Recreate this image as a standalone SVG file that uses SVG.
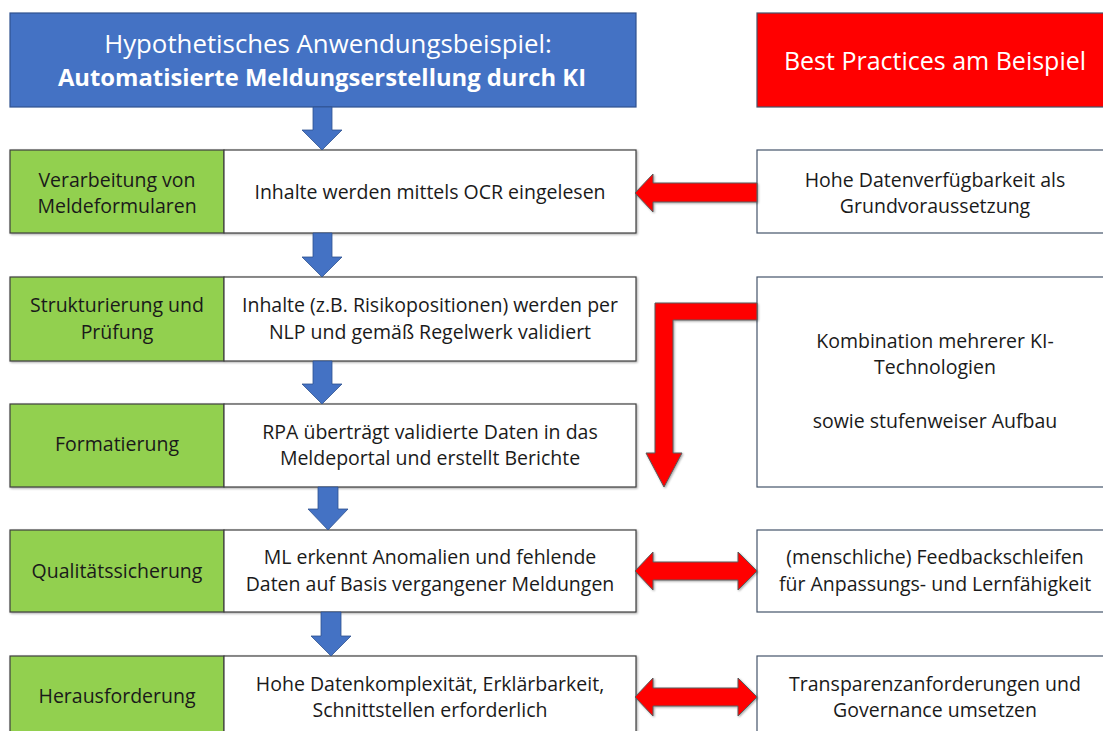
<svg xmlns="http://www.w3.org/2000/svg" width="1103" height="731" viewBox="0 0 1103 731">
<defs>
<filter id="sh" x="-10%" y="-10%" width="130%" height="130%"><feDropShadow dx="1" dy="1" stdDeviation="0.8" flood-color="#000" flood-opacity="0.35"/></filter>
<style>
text{font-family:"Open Sans","Liberation Sans",Arial,sans-serif;font-size:19.5px;fill:#1a1a1a;text-anchor:middle}
.hd{fill:#fff;font-size:25px}
.h1{font-size:25.8px}
.b{font-weight:bold;font-size:23.8px}
.grn{fill:#92D050;stroke:#3f3f3f;stroke-width:1.2}
.wht{fill:#fff;stroke:#3f3f3f;stroke-width:1.2}
.rb{fill:#fff;stroke:#44546A;stroke-width:1.2}
.ba{fill:#4472C4;stroke:#2F528F;stroke-width:0.8}
.ra{fill:#FF0000;stroke:#5a5a5a;stroke-width:1}
</style>
</defs>
<rect width="1103" height="731" fill="#fff"/>
<g id="header-left"><rect x="10" y="13" width="626" height="94" fill="#4472C4" stroke="#2F528F" stroke-width="1.2"/>
<text class="hd h1" x="328" y="53">Hypothetisches Anwendungsbeispiel:</text>
<text class="hd b" x="322" y="86">Automatisierte Meldungserstellung durch KI</text></g>
<g id="header-right"><rect x="757" y="13" width="356" height="94" fill="#FF0000" stroke="#44546A" stroke-width="1.2"/>
<text class="hd" x="935" y="70">Best Practices am Beispiel</text></g>

<g id="row1" filter="url(#sh)"><rect class="grn" x="10" y="150" width="214" height="83"/><rect class="wht" x="224" y="150" width="412" height="83"/></g>
<g id="row1-text"><text x="117" y="187">Verarbeitung von</text><text x="117" y="213">Meldeformularen</text><text x="430" y="199">Inhalte werden mittels OCR eingelesen</text></g>
<g id="row2" filter="url(#sh)"><rect class="grn" x="10" y="277" width="214" height="84"/><rect class="wht" x="224" y="277" width="412" height="84"/></g>
<g id="row2-text"><text x="117" y="312">Strukturierung und</text><text x="117" y="339">Prüfung</text><text x="430" y="312">Inhalte (z.B. Risikopositionen) werden per</text><text x="430" y="339">NLP und gemäß Regelwerk validiert</text></g>
<g id="row3" filter="url(#sh)"><rect class="grn" x="10" y="404" width="214" height="83"/><rect class="wht" x="224" y="404" width="412" height="83"/></g>
<g id="row3-text"><text x="117" y="451">Formatierung</text><text x="430" y="439">RPA überträgt validierte Daten in das</text><text x="430" y="465">Meldeportal und erstellt Berichte</text></g>
<g id="row4" filter="url(#sh)"><rect class="grn" x="10" y="530" width="214" height="82"/><rect class="wht" x="224" y="530" width="412" height="82"/></g>
<g id="row4-text"><text x="117" y="578">Qualitätssicherung</text><text x="430" y="564">ML erkennt Anomalien und fehlende</text><text x="430" y="591">Daten auf Basis vergangener Meldungen</text></g>
<g id="row5" filter="url(#sh)"><rect class="grn" x="10" y="656" width="214" height="84"/><rect class="wht" x="224" y="656" width="412" height="84"/></g>
<g id="row5-text"><text x="117" y="703">Herausforderung</text><text x="430" y="691">Hohe Datenkomplexität, Erklärbarkeit,</text><text x="430" y="717">Schnittstellen erforderlich</text></g>

<g id="bp1"><rect class="rb" x="757" y="150" width="356" height="83"/><text x="935" y="187">Hohe Datenverfügbarkeit als</text><text x="935" y="213">Grundvoraussetzung</text></g>
<g id="bp2"><rect class="rb" x="757" y="277" width="356" height="210"/><text x="935" y="348">Kombination mehrerer KI-</text><text x="935" y="374">Technologien</text><text x="935" y="428">sowie stufenweiser Aufbau</text></g>
<g id="bp3"><rect class="rb" x="757" y="530" width="356" height="82"/><text x="935" y="564">(menschliche) Feedbackschleifen</text><text x="935" y="591">für Anpassungs- und Lernfähigkeit</text></g>
<g id="bp4"><rect class="rb" x="757" y="656" width="356" height="84"/><text x="935" y="691">Transparenzanforderungen und</text><text x="935" y="717">Governance umsetzen</text></g>

<g id="connectors">
<path class="ba" d="M313 107 H332 V130 H342 L322 150 L302 130 H313 Z"/>
<path class="ba" d="M313 233 H332 V257 H342 L322 277 L302 257 H313 Z"/>
<path class="ba" d="M313 361 H332 V384 H342 L322 404 L302 384 H313 Z"/>
<path class="ba" d="M318 487 H338 V509 H348 L328 530 L308 509 H318 Z"/>
<path class="ba" d="M321 612 H341 V636 H351 L331 656 L311 636 H321 Z"/>
<g filter="url(#sh)">
<path class="ra" d="M757 183 V202 H653 V212 L635 193 L653 174 V183 Z"/>
<path class="ra" d="M757 303 V320 H673 V453 H682 L664 487 L646 453 H655 V303 Z"/>
<path class="ra" d="M635 571 L653 552 V562 H738 V552 L757 571 L738 590 V580 H653 V590 Z"/>
<path class="ra" d="M635 697 L653 678 V688 H738 V678 L757 697 L738 716 V706 H653 V716 Z"/>
</g>
</g>
</svg>
